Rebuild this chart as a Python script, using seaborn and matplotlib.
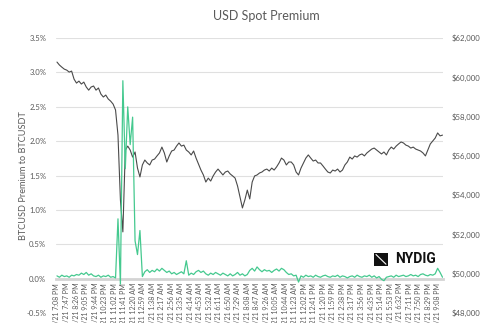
import numpy as np
import pandas as pd
import matplotlib
matplotlib.use("Agg")
import matplotlib.pyplot as plt
from matplotlib.patches import Rectangle
from matplotlib.lines import Line2D
from matplotlib.ticker import FuncFormatter
import seaborn as sns

# Minutes elapsed since 4/17/21 7:08 PM, one sample every 10 minutes
minutes = list(range(0, 1590, 10))

# BTC spot price (USD), right axis
btc_price = [
    60780, 60630, 60520, 60420, 60370, 60270, 60320, 59910, 59710, 59810,
    59660, 59760, 59510, 59350, 59510, 59560, 59350, 59460, 59150, 59000,
    59100, 58900, 58790, 58640, 58340, 57060, 53760, 52130, 56300, 56500,
    56300, 55940, 56200, 55380, 54930, 55540, 55790, 55640, 55540, 55790,
    55840, 56000, 56150, 56450, 56150, 55690, 56000, 56250, 56300, 56500,
    56660, 56500, 56550, 56300, 56200, 56050, 56250, 55890, 55590, 55280,
    55030, 54670, 54870, 54720, 54980, 55180, 55330, 55180, 55030, 55180,
    55230, 55080, 54980, 54870, 54470, 53910, 53350, 53760, 54260, 53810,
    54670, 54980, 55030, 55130, 55180, 55280, 55330, 55230, 55380, 55280,
    55440, 55640, 55890, 55790, 55540, 55690, 55690, 55540, 55180, 55030,
    55380, 55640, 55890, 56050, 55890, 55740, 55790, 55640, 55640, 55490,
    55330, 55180, 55130, 55280, 55230, 55330, 55180, 55280, 55540, 55690,
    55940, 55840, 56000, 55940, 56050, 56100, 56000, 56150, 56250, 56350,
    56400, 56300, 56200, 56100, 56200, 56050, 56300, 56450, 56350, 56500,
    56610, 56710, 56660, 56550, 56500, 56400, 56450, 56350, 56300, 56250,
    56150, 56000, 56300, 56610, 56760, 56910, 57170, 57020, 57060,
]

# BTCUSD premium to BTCUSDT (%), left axis
premium_pct = [
    0.04, 0.02, 0.05, 0.03, 0.04, 0.02, 0.05, 0.04, 0.06, 0.05,
    0.08, 0.06, 0.09, 0.05, 0.07, 0.04, 0.03, 0.05, 0.02, 0.04,
    0.03, 0.05, 0.02, 0.03, 0.01, 0.87, -0.08, 2.88, 1.60, 2.50,
    1.95, 2.35, 0.55, 0.35, 0.70, 0.03, 0.10, 0.13, 0.09, 0.12,
    0.10, 0.14, 0.11, 0.15, 0.12, 0.09, 0.11, 0.07, 0.09, 0.06,
    0.08, 0.10, 0.07, 0.26, 0.05, 0.08, 0.06, 0.10, 0.12, 0.09,
    0.11, 0.07, 0.05, 0.08, 0.06, 0.09, 0.07, 0.05, 0.08, 0.06,
    0.04, 0.07, 0.04, 0.06, 0.09, 0.05, 0.07, 0.04, 0.06, 0.12,
    0.15, 0.11, 0.17, 0.13, 0.10, 0.13, 0.11, 0.12, 0.09, 0.12,
    0.14, 0.11, 0.15, 0.13, 0.09, 0.06, 0.07, 0.04, 0.05, -0.05,
    0.04, 0.02, 0.05, 0.03, 0.04, 0.02, 0.05, 0.03, 0.02, 0.04,
    0.05, 0.03, 0.02, 0.04, 0.03, 0.05, 0.02, 0.04, 0.03, 0.01,
    0.03, 0.04, 0.02, 0.05, 0.03, 0.02, 0.04, 0.03, 0.05, 0.02,
    0.04, 0.01, 0.03, -0.01, -0.03, 0.02, 0.03, 0.04, 0.02, 0.05,
    0.03, 0.04, 0.05, 0.03, 0.04, 0.06, 0.04, 0.05, 0.03, 0.06,
    0.07, 0.05, 0.04, 0.06, 0.05, 0.07, 0.15, 0.09, 0.02,
]

# x tick labels, every 39 minutes
tick_minutes = list(range(0, 1561, 39))
tick_labels = [
    "4/17/21 7:08 PM", "4/17/21 7:47 PM", "4/17/21 8:26 PM", "4/17/21 9:05 PM",
    "4/17/21 9:44 PM", "4/17/21 10:23 PM", "4/17/21 11:02 PM", "4/17/21 11:41 PM",
    "4/18/21 12:20 AM", "4/18/21 12:59 AM", "4/18/21 1:38 AM", "4/18/21 2:17 AM",
    "4/18/21 2:56 AM", "4/18/21 3:35 AM", "4/18/21 4:14 AM", "4/18/21 4:53 AM",
    "4/18/21 5:32 AM", "4/18/21 6:11 AM", "4/18/21 6:50 AM", "4/18/21 7:29 AM",
    "4/18/21 8:08 AM", "4/18/21 8:47 AM", "4/18/21 9:26 AM", "4/18/21 10:05 AM",
    "4/18/21 10:44 AM", "4/18/21 11:23 AM", "4/18/21 12:02 PM", "4/18/21 12:41 PM",
    "4/18/21 1:20 PM", "4/18/21 1:59 PM", "4/18/21 2:38 PM", "4/18/21 3:17 PM",
    "4/18/21 3:56 PM", "4/18/21 4:35 PM", "4/18/21 5:14 PM", "4/18/21 5:53 PM",
    "4/18/21 6:32 PM", "4/18/21 7:11 PM", "4/18/21 7:50 PM", "4/18/21 8:29 PM",
    "4/18/21 9:08 PM",
]

pct_ticks = [-0.5, 0.0, 0.5, 1.0, 1.5, 2.0, 2.5, 3.0, 3.5]
usd_ticks = [48000, 50000, 52000, 54000, 56000, 58000, 60000, 62000]

df = pd.DataFrame({"minute": minutes, "price": btc_price, "premium": premium_pct})

sns.set_theme(style="white")
plt.rcParams["font.family"] = ["Lato", "DejaVu Sans"]

TEXT = "#5a5a5a"
GREEN = "#45c98f"
PRICE = "#4a4a4a"

fig = plt.figure(figsize=(5.0, 3.23), dpi=100)
ax = fig.add_axes([0.112, 0.031, 0.774, 0.851])
ax2 = ax.twinx()

# price on the right axis
sns.lineplot(data=df, x="minute", y="price", ax=ax2, color=PRICE, linewidth=0.8)
# premium on the left axis, drawn above the price line
sns.lineplot(data=df, x="minute", y="premium", ax=ax, color=GREEN, linewidth=0.9)
ax.set_zorder(ax2.get_zorder() + 1)
ax.patch.set_visible(False)

# x axis sits on the 0% line
for a in (ax, ax2):
    for s in a.spines.values():
        s.set_visible(False)
ax.spines["bottom"].set_visible(True)
ax.spines["bottom"].set_position(("data", 0))
ax.spines["bottom"].set_color("#d4d4d4")
ax.spines["bottom"].set_linewidth(2.0)
ax.spines["bottom"].set_zorder(0.5)

ax.set_xlim(-4, 1582)
ax.set_ylim(-0.5, 3.5)
ax2.set_ylim(48000, 62000)

ax.set_yticks(pct_ticks)
ax.yaxis.set_major_formatter(FuncFormatter(lambda v, p: f"{v:.1f}%"))
ax2.set_yticks(usd_ticks)
ax2.yaxis.set_major_formatter(FuncFormatter(lambda v, p: f"${v:,.0f}"))

ax.set_xticks(tick_minutes)
ax.set_xticklabels(tick_labels)
for lbl in ax.get_xticklabels():
    lbl.set_rotation(90)
    lbl.set_va("top")
    lbl.set_ha("center")

# grid for the percent scale
for v in pct_ticks[2:]:
    ax2.axhline(48000 + (v + 0.5) / 4.0 * 14000, color="#e0e0e0", linewidth=0.8, zorder=0)

ax.tick_params(axis="x", length=0, pad=3, labelsize=5.0, labelcolor=TEXT, labelrotation=90)
ax.tick_params(axis="y", length=0, pad=7, labelsize=5.6, labelcolor=TEXT)
ax2.tick_params(axis="y", length=0, pad=6, labelsize=5.6, labelcolor=TEXT)

ax.set_xlabel("")
ax.set_ylabel("BTCUSD Premium to BTCUSDT", fontsize=6.6, color=TEXT, labelpad=-1)
ax2.set_ylabel("")

fig.text(0.532, 0.95, "USD Spot Premium", ha="center", va="center",
         fontsize=9, color=TEXT)

# NYDIG mark
fig.add_artist(Rectangle((0.748, 0.176), 0.028, 0.042, transform=fig.transFigure,
                         facecolor="#111111", edgecolor="none"))
fig.add_artist(Line2D([0.752, 0.772], [0.212, 0.182], transform=fig.transFigure,
                      color="white", linewidth=0.8))
fig.text(0.79, 0.197, "NYDIG", ha="left", va="center", fontsize=10,
         fontweight="bold", color="#111111", family=["Roboto", "DejaVu Sans"])

fig.savefig("out.png", dpi=100)
